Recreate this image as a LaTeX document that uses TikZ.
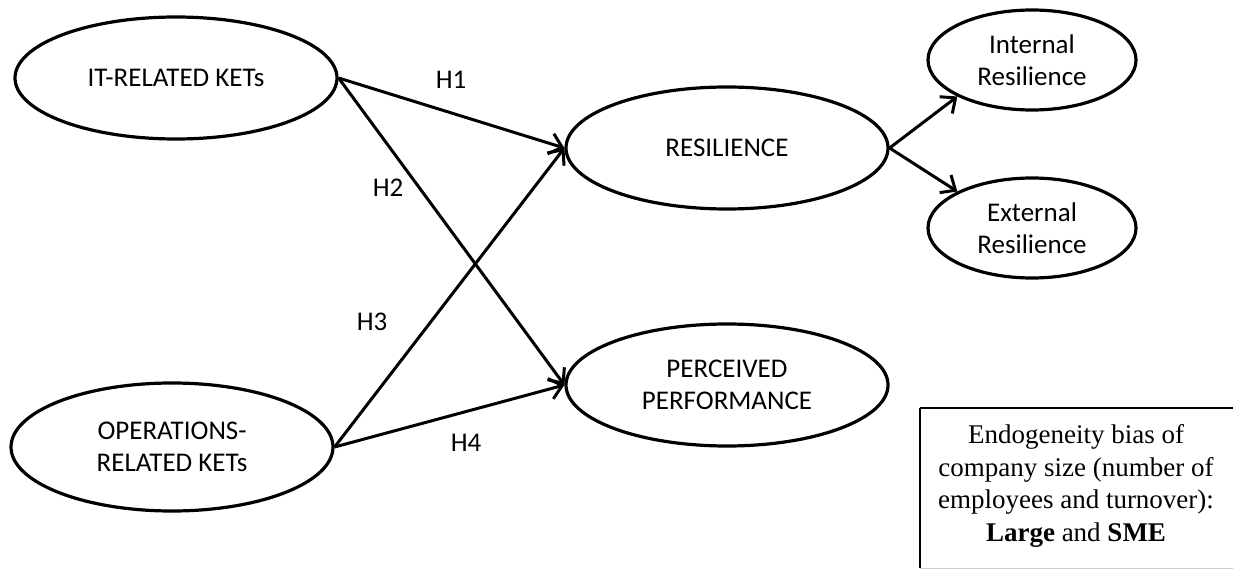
\documentclass[tikz,border=0pt]{standalone}
\usepackage{fontspec}
\setmainfont{Carlito}
\newfontfamily\boxfont{Liberation Serif}
\usetikzlibrary{shapes.geometric,arrows.meta,positioning}

\begin{document}
\begin{tikzpicture}[x=1pt,y=-1pt,font=\fontsize{27}{32}\selectfont]
        % Setup the styles
        \tikzset{construct/.style={ellipse, draw, line width=3.2pt,
                                   inner sep=0pt, align=center,
                                   minimum width=322pt, minimum height=122pt},
                 dimension/.style={construct,
                                   minimum width=208pt, minimum height=100pt},
                 hyp/.style={inner sep=1pt},
                 link/.style={line width=3pt,
                              -{Straight Barb[length=12pt,width=21pt,line width=3pt]}}}

        \clip (0,0) rectangle (1233,569);

        % Draw the constructs
        \node[construct] at (176, 78)  (it)   {IT-RELATED KETs};
        \node[construct, minimum height=128pt] at (172, 447) (ops) {OPERATIONS-\\RELATED KETs};
        \node[construct] at (727, 148) (res)  {RESILIENCE};
        \node[construct] at (727, 385) (perf) {PERCEIVED\\PERFORMANCE};
        \node[dimension] at (1032, 60)  (intres) {Internal\\Resilience};
        \node[dimension] at (1032, 228) (extres) {External\\Resilience};

        % Hypotheses labels
        \node[hyp] at (451, 80)  (h1) {H1};
        \node[hyp] at (388, 188) (h2) {H2};
        \node[hyp] at (372, 322) (h3) {H3};
        \node[hyp] at (466, 443) (h4) {H4};

        % Connect the constructs
        \draw[link] (it.east)  -- (res.west);
        \draw[link] (it.east)  -- (perf.west);
        \draw[link] (ops.east) -- (res.west);
        \draw[link] (ops.east) -- (perf.west);
        \draw[link] (res.east) -- (intres.south west);
        \draw[link] (res.east) -- (extres.north west);

        % Control variable box
        \draw[line width=2pt] (920, 408) -- (1270, 408);
        \draw[line width=2pt] (920, 408) -- (920, 568);
        \draw[line width=0.5pt, gray!40] (920, 568) -- (1233, 568);
        \node[font=\boxfont\fontsize{27}{32.5}\selectfont, align=center]
            at (1076, 486) (bias)
            {Endogeneity bias of\\company size (number of\\employees and turnover):\\\textbf{Large} and \textbf{SME}};
\end{tikzpicture}
\end{document}
